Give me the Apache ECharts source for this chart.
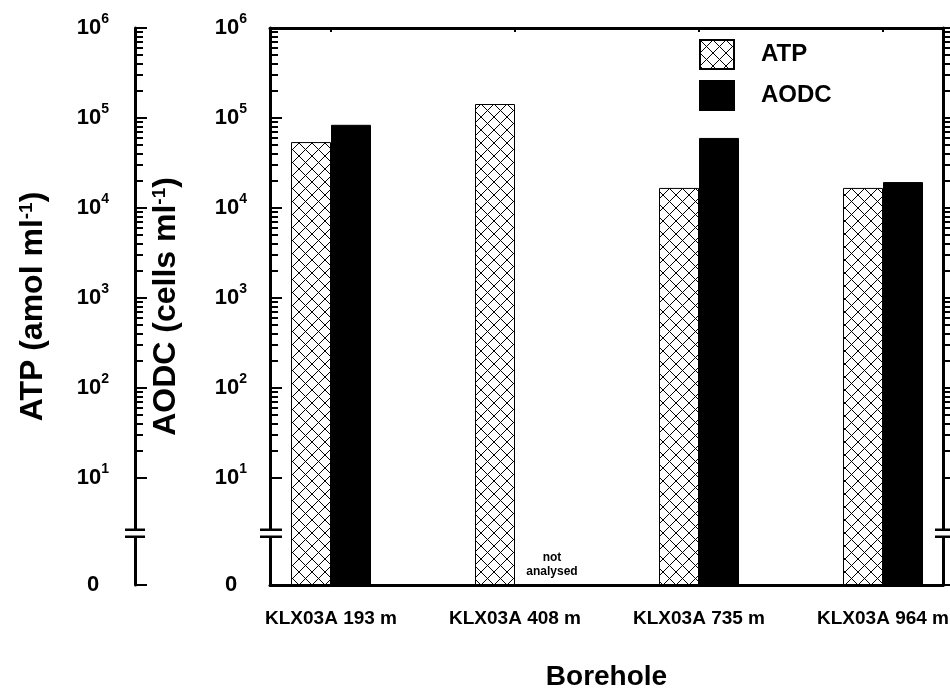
<!DOCTYPE html>
<html><head><meta charset="utf-8">
<script src="https://cdn.jsdelivr.net/npm/echarts@6/dist/echarts.min.js"></script>
<style>html,body{margin:0;padding:0;background:#fff}#c{width:950px;height:693px}</style>
</head><body><div id="c"></div>
<script>
// ---------------- data ----------------
const categories = ['KLX03A 193 m', 'KLX03A 408 m', 'KLX03A 735 m', 'KLX03A 964 m'];
const atpValues = [54000, 143000, 16700, 16700];
const aodcValues = [84000, null, 60000, 19400];
const decadeExponents = [1, 2, 3, 4, 5, 6];
const zeroLabel = '0';
const missingNote = 'not\nanalysed';
const seriesNames = ['ATP', 'AODC'];
const xTitle = 'Borehole';
const atpTitle = 'ATP (amol ml{s|-1})';
const aodcTitle = 'AODC (cells ml{s|-1})';

// ---------------- broken log scale ----------------
const ZERO_POS = -0.19;   // position (in decades) where 0 sits, below the break
const BREAK_POS = 0.385;  // position of the axis break
const TOP_EXP = 6;
function q(v) { return v > 0 ? Math.log10(v) - ZERO_POS : 0; }
const AX_MAX = TOP_EXP - ZERO_POS;
const majorQ = [0].concat(decadeExponents.map(e => e - ZERO_POS));
const minorQ = [];
for (let e = decadeExponents[0]; e < TOP_EXP; e++) for (let m = 2; m <= 9; m++) minorQ.push(Math.log10(m) + e - ZERO_POS);

// ---------------- layout / style ----------------
const FONT = '"Liberation Sans", Arial, sans-serif';
const GRID_TOP = 28, GRID_BOTTOM = 108, GRID_LEFT = 270, GRID_RIGHT = 7, ATP_OFFSET = 135;
const W = 950;

function hatch() {
  const s = 13, c = document.createElement('canvas');
  c.width = s; c.height = s;
  const g = c.getContext('2d');
  g.fillStyle = '#fff'; g.fillRect(0, 0, s, s);
  g.strokeStyle = '#000'; g.lineWidth = 1;
  g.beginPath(); g.moveTo(0, 0); g.lineTo(s, s); g.moveTo(s, 0); g.lineTo(0, s); g.stroke();
  return c;
}

function labelFmt(v) {
  if (Math.abs(v) < 1e-6) return '{b|' + zeroLabel + '}';
  const e = Math.round(v + ZERO_POS);
  return '{b|10}{s|' + e + '}';
}
const labelRich = {
  b: { fontSize: 22, fontWeight: 'bold', fontFamily: FONT, color: '#000', lineHeight: 32 },
  s: { fontSize: 14, fontWeight: 'bold', fontFamily: FONT, color: '#000', lineHeight: 14, verticalAlign: 'top' }
};
const nameStyle = {
  fontSize: 32, fontWeight: 'bold', fontFamily: FONT, color: '#000',
  rich: { s: { fontSize: 19, fontWeight: 'bold', fontFamily: FONT, color: '#000', verticalAlign: 'top', lineHeight: 18 } }
};

function yAxis(extra) {
  return Object.assign({
    type: 'value', gridIndex: 0, min: 0, max: AX_MAX, splitLine: { show: false },
    axisLine: { show: false, onZero: false }, axisTick: { show: false }, axisLabel: { show: false }
  }, extra);
}
const axLine = { show: true, onZero: false, lineStyle: { color: '#000', width: 3 } };
function ticks(vals, len, inside) {
  return { show: true, customValues: vals, inside: inside, length: len, lineStyle: { color: '#000', width: 2 } };
}

const chart = echarts.init(document.getElementById('c'), null, { renderer: 'canvas' });
const option = {
  animation: false,
  backgroundColor: '#fff',
  textStyle: { fontFamily: FONT },
  grid: [
    { left: GRID_LEFT, right: GRID_RIGHT, top: GRID_TOP, bottom: GRID_BOTTOM, containLabel: false, outerBoundsMode: 'none' },
    { left: 239, width: 736, top: GRID_TOP, bottom: GRID_BOTTOM, containLabel: false, outerBoundsMode: 'none' }
  ],
  legend: {
    data: seriesNames, orient: 'vertical', left: 699, top: 39, padding: 0, itemWidth: 34, itemHeight: 29, itemGap: 10,
    icon: 'rect', selectedMode: false,
    textStyle: { fontSize: 24, fontWeight: 'bold', fontFamily: FONT, color: '#000', padding: [0, 0, 0, 22] }
  },
  xAxis: [
    { type: 'value', gridIndex: 0, min: 0, max: 1, position: 'bottom', axisLine: axLine, axisTick: { show: false },
      axisLabel: { show: false }, splitLine: { show: false },
      name: xTitle, nameLocation: 'middle', nameGap: 78,
      nameTextStyle: { fontSize: 28, fontWeight: 'bold', fontFamily: FONT, color: '#000' } },
    { type: 'value', gridIndex: 0, min: 0, max: 1, position: 'top', axisLine: axLine, axisTick: { show: false },
      axisLabel: { show: false }, splitLine: { show: false } },
    { type: 'category', gridIndex: 1, data: categories, position: 'bottom', axisLine: { show: false }, axisTick: { show: false },
      axisLabel: { fontSize: 19, fontWeight: 'bold', fontFamily: FONT, color: '#000', margin: 24, interval: 0 } },
    { type: 'category', gridIndex: 1, data: categories, position: 'top', axisLine: { show: false },
      axisTick: { show: true, inside: true, length: 4, alignWithLabel: true, lineStyle: { color: '#000', width: 2 } },
      axisLabel: { show: false } }
  ],
  yAxis: [
    yAxis({ position: 'left', offset: ATP_OFFSET, axisLine: axLine, axisTick: ticks(majorQ, 12, true),
      axisLabel: { show: true, customValues: majorQ, formatter: labelFmt, margin: 42, align: 'center', rich: labelRich },
      name: atpTitle, nameLocation: 'middle', nameGap: 86, nameRotate: 90, nameTextStyle: nameStyle, nameMoveOverlap: false }),
    yAxis({ position: 'left', offset: ATP_OFFSET, axisTick: ticks(minorQ, 8, true) }),
    yAxis({ position: 'left', offset: 0, axisLine: axLine, axisTick: ticks(majorQ, 12, true),
      axisLabel: { show: true, customValues: majorQ, formatter: labelFmt, margin: 39, align: 'center', rich: labelRich },
      name: aodcTitle, nameLocation: 'middle', nameGap: 88, nameRotate: 90, nameTextStyle: nameStyle, nameMoveOverlap: false }),
    yAxis({ position: 'left', offset: 0, axisTick: ticks(minorQ, 8, true) }),
    yAxis({ position: 'right', offset: 0, axisLine: axLine, axisTick: ticks(majorQ, 12, false) }),
    yAxis({ position: 'right', offset: 0, axisTick: ticks(minorQ, 8, false) }),
    yAxis({ gridIndex: 1 })
  ],
  series: [
    { name: seriesNames[0], type: 'bar', xAxisIndex: 2, yAxisIndex: 6, barWidth: 40, barGap: '0%',
      data: atpValues.map(q),
      itemStyle: { color: { image: hatch(), repeat: 'repeat' }, borderColor: '#000', borderWidth: 1 } },
    { name: seriesNames[1], type: 'bar', xAxisIndex: 2, yAxisIndex: 6, barWidth: 40, barGap: '0%',
      data: aodcValues.map(v => v == null
        ? { value: 0, itemStyle: { borderWidth: 0, color: 'rgba(0,0,0,0)' },
            label: { show: true, position: 'top', distance: 6, offset: [17, 0], formatter: missingNote,
            fontSize: 12, fontWeight: 'bold', fontFamily: FONT, color: '#000', lineHeight: 14, align: 'center' } }
        : q(v)),
      itemStyle: { color: '#000', borderColor: '#000', borderWidth: 1 } }
  ]
};
chart.setOption(option);

// axis break marks
const yb = chart.convertToPixel({ yAxisIndex: 0 }, BREAK_POS - ZERO_POS);
const axesX = [
  { x: GRID_LEFT - ATP_OFFSET, l: 10, r: 10 },
  { x: GRID_LEFT, l: 10, r: 12 },
  { x: W - GRID_RIGHT, l: 8, r: 10 }
];
const g = [];
axesX.forEach(a => {
  g.push({ type: 'rect', shape: { x: a.x - 3, y: yb - 3, width: 6, height: 6 }, style: { fill: '#fff' }, z: 100 });
  [-3.5, 3.5].forEach(d => g.push({ type: 'line', shape: { x1: a.x - a.l, y1: yb + d, x2: a.x + a.r, y2: yb + d },
    style: { stroke: '#000', lineWidth: 2.5 }, z: 101 }));
});
chart.setOption({ graphic: g });
</script></body></html>
